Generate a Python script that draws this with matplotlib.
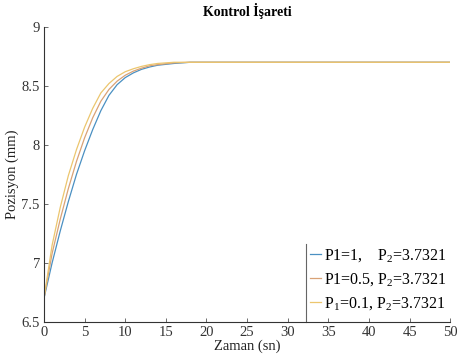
import numpy as np
import matplotlib
matplotlib.use("Agg")
from matplotlib import pyplot as plt

# step responses for three P1 values (P2 fixed)
t = [0, 1, 2, 3, 4, 5, 6, 7, 8, 9, 10, 11, 12, 13, 14, 16, 18, 20, 25, 30, 40, 50]
pos_p1_1 = [6.70, 7.00, 7.27, 7.52, 7.75, 7.95, 8.13, 8.29, 8.42, 8.51, 8.57,
            8.61, 8.64, 8.66, 8.675, 8.69, 8.70, 8.70, 8.70, 8.70, 8.70, 8.70]
pos_p1_05 = [6.70, 7.08, 7.37, 7.63, 7.86, 8.06, 8.23, 8.37, 8.47, 8.54, 8.59,
             8.625, 8.65, 8.67, 8.68, 8.695, 8.70, 8.70, 8.70, 8.70, 8.70, 8.70]
pos_p1_01 = [6.70, 7.15, 7.47, 7.74, 7.96, 8.15, 8.31, 8.44, 8.52, 8.58, 8.62,
             8.645, 8.665, 8.68, 8.69, 8.70, 8.70, 8.70, 8.70, 8.70, 8.70, 8.70]
labels = [r"P1=1,    P$\mathregular{_2}$=3.7321",
          r"P1=0.5, P$\mathregular{_2}$=3.7321",
          r"P$\mathregular{_1}$=0.1, P$\mathregular{_2}$=3.7321"]
colors = ["#4a90c2", "#d9a276", "#ecc66e"]

xticks = np.arange(0, 51, 5)
yticks = [6.5, 7, 7.5, 8, 8.5, 9]

plt.rcParams['font.family'] = ['Liberation Serif', 'DejaVu Serif']
plt.rcParams['mathtext.fontset'] = 'custom'
plt.rcParams['mathtext.rm'] = 'Liberation Serif'

fig = plt.figure(figsize=(4.58, 3.63), dpi=100)
ax = fig.add_axes([0.096, 0.113, 0.887, 0.813])

for y, lab, c in zip([pos_p1_1, pos_p1_05, pos_p1_01], labels, colors):
    ax.plot(t, y, color=c, linewidth=0.9, label=lab)

ax.set_xlim(0, 50)
ax.set_ylim(6.5, 9)
ax.set_xticks(xticks)
ax.set_xticklabels([str(v) for v in xticks])
ax.set_yticks(yticks)
ax.set_yticklabels(["6.5", "7", "7.5", "8", "8.5", "9"])
ax.tick_params(direction='in', length=3, width=0.6, colors='#555555',
               labelsize=10.5, labelcolor='#333333', pad=3)
for s in ['top', 'right']:
    ax.spines[s].set_visible(False)
for s in ['left', 'bottom']:
    ax.spines[s].set_color('#333333')
    ax.spines[s].set_linewidth(0.8)

ax.set_xlabel("Zaman (sn)", fontsize=10.5, color='#222222', labelpad=0)
ax.set_ylabel("Pozisyon (mm)", fontsize=10.5, color='#222222', labelpad=2)
ax.set_title("Kontrol İşareti", fontsize=10, fontweight='bold', pad=8)

leg = ax.legend(loc='lower left', bbox_to_anchor=(0.643, 0.018), frameon=False,
                fontsize=11.5, handlelength=0.7, handletextpad=0.2,
                labelspacing=0.45, borderaxespad=0, borderpad=0.3)
# left edge of the legend box
ax.plot([0.645, 0.645], [0, 0.265], transform=ax.transAxes, color='#666666',
        linewidth=0.8, clip_on=False)

fig.savefig("out.png", dpi=100)
